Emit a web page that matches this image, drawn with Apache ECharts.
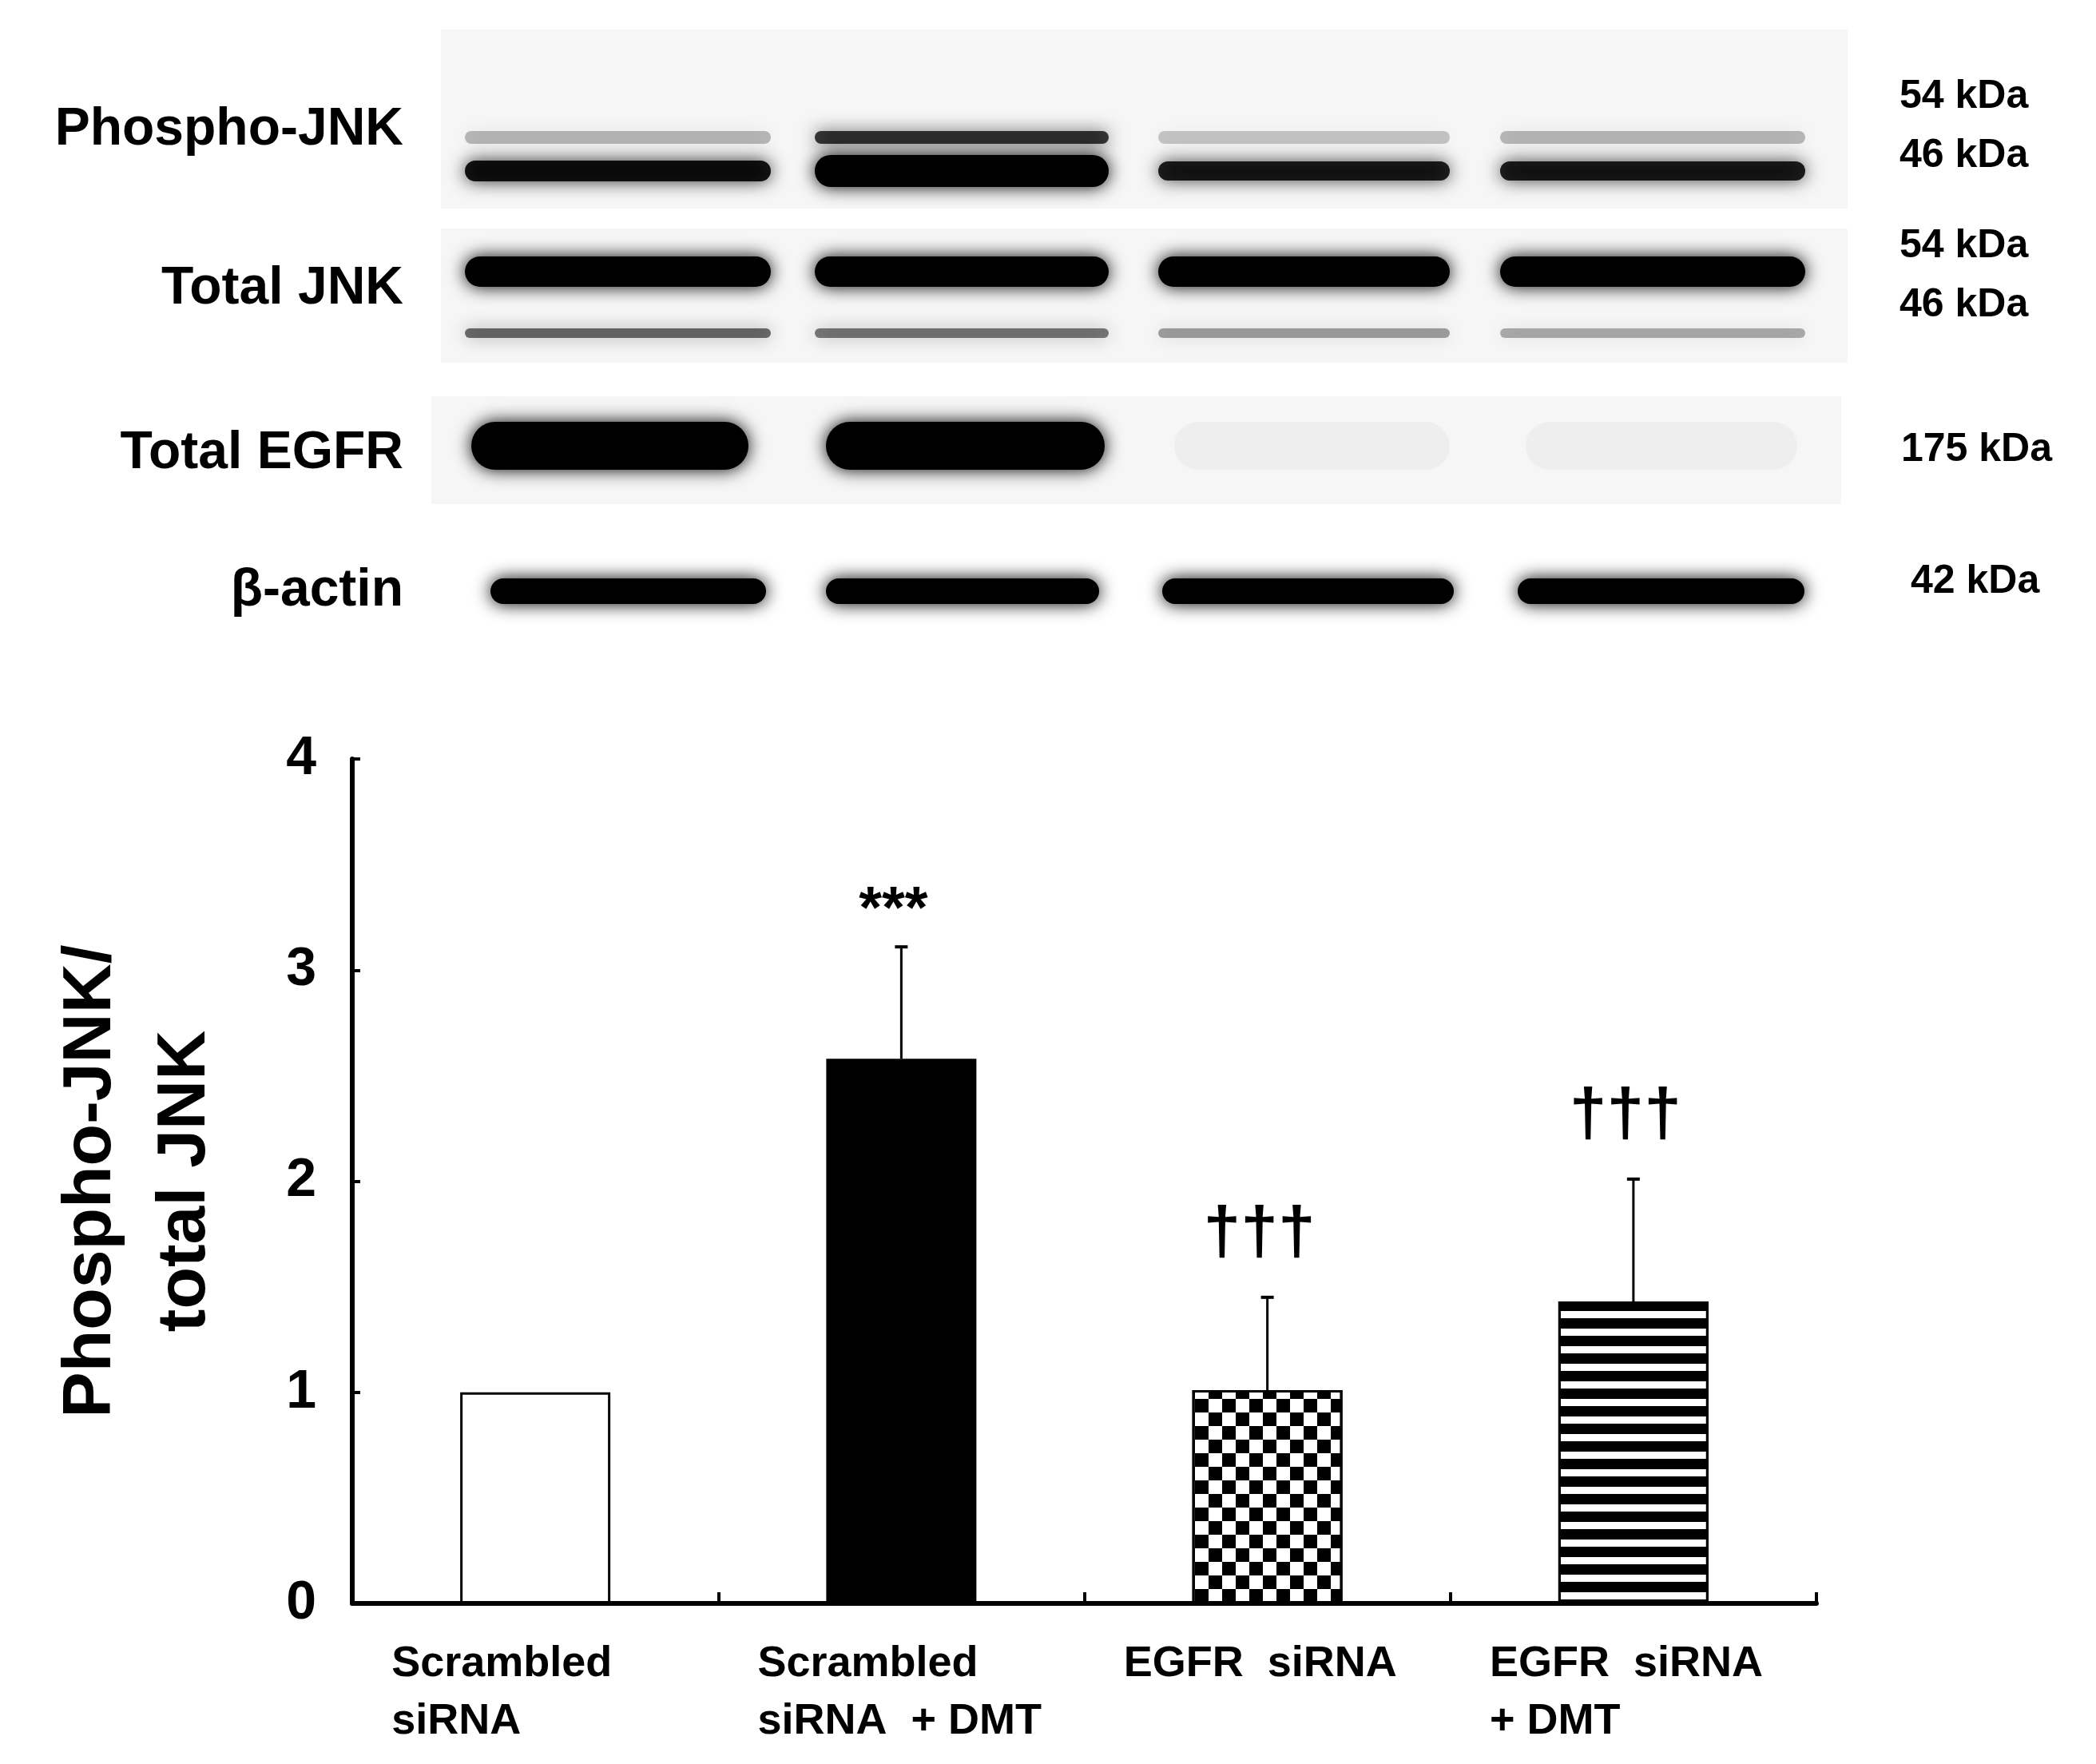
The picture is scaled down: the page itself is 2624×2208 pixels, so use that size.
<!DOCTYPE html>
<html>
<head>
<meta charset="utf-8">
<script src="https://cdn.jsdelivr.net/npm/echarts@6/dist/echarts.min.js"></script>
<style>html,body{margin:0;padding:0;background:#fff}#main{width:2624px;height:2208px}</style>
</head>
<body>
<div id="main"></div>
<script>
// data
var categories = ['Scrambled\nsiRNA', 'Scrambled\nsiRNA  + DMT', 'EGFR  siRNA', 'EGFR  siRNA\n+ DMT'];
var means = [1.0, 2.58, 1.01, 1.43];
var errUpper = [null, 3.11, 1.45, 2.01];
var marks = ['', '***', '†††', '†††'];
var yTicks = [0, 1, 2, 3, 4];

// blot band intensities (0..1) per lane
var pjnkUpper = [0.25, 0.75, 0.2, 0.25];
var pjnkLower = [0.9, 1.0, 0.85, 0.85];
var tjnkUpper = [1, 1, 1, 1];
var tjnkLower = [0.55, 0.5, 0.35, 0.3];
var egfr = [1, 1, 0.03, 0.03];
var actin = [1, 1, 1, 1];

var font = '"Liberation Sans", Arial, sans-serif';
var lanes = [[582, 965], [1020, 1388], [1450, 1815], [1878, 2260]];

var myChart = echarts.init(document.getElementById('main'));
var g = [];

function panel(x, y, w, h) {
    g.push({ type: 'rect', shape: { x: x, y: y, width: w, height: h }, style: { fill: '#f6f6f6' }, z: 1 });
}
function bands(arr, cy, h, laneList, hList) {
    arr.forEach(function (a, i) {
        var l = (laneList || lanes)[i];
        var hh = hList ? hList[i] : h;
        var c = 'rgba(0,0,0,' + a + ')';
        g.push({
            type: 'rect',
            shape: { x: l[0], y: cy - hh / 2, width: l[1] - l[0], height: hh, r: hh / 2 },
            style: { fill: c, shadowBlur: 22, shadowColor: c },
            z: 2
        });
    });
}
function label(text, x, y, size, align) {
    g.push({ type: 'text', x: x, y: y, style: { text: text, font: 'bold ' + size + 'px ' + font, fill: '#000', align: align, verticalAlign: 'middle' }, z: 3 });
}

panel(552, 37, 1761, 224);
bands(pjnkUpper, 172, 16);
bands(pjnkLower, 214, 26, null, [26, 40, 24, 24]);
panel(552, 286, 1761, 168);
bands(tjnkUpper, 340, 38);
bands(tjnkLower, 417, 12);
panel(540, 496, 1765, 135);
bands(egfr, 558, 60, [[590, 937], [1034, 1383], [1470, 1815], [1910, 2250]]);
bands(actin, 740, 32, [[614, 959], [1034, 1376], [1455, 1820], [1900, 2259]]);

label('Phospho-JNK', 505, 163, 66, 'right');
label('Total JNK', 505, 362, 66, 'right');
label('Total EGFR', 505, 568, 66, 'right');
label('β-actin', 505, 740, 66, 'right');
label('54 kDa', 2378, 121, 50, 'left');
label('46 kDa', 2378, 195, 50, 'left');
label('54 kDa', 2378, 308, 50, 'left');
label('46 kDa', 2378, 382, 50, 'left');
label('175 kDa', 2380, 563, 50, 'left');
label('42 kDa', 2392, 728, 50, 'left');

var option = {
    backgroundColor: '#fff',
    animation: false,
    graphic: g,
    grid: { left: 441, right: 350, top: 950, bottom: 201 },
    xAxis: {
        type: 'category',
        data: categories,
        axisLine: { lineStyle: { color: '#000', width: 6 } },
        axisTick: { show: true, inside: true, length: 14, lineStyle: { color: '#000', width: 4 } },
        axisLabel: {
            margin: 40,
            interval: 0,
            formatter: function (v) { return '{a|' + v + '}'; },
            rich: { a: { width: 360, align: 'left', fontFamily: font, fontWeight: 'bold', fontSize: 54, lineHeight: 72, color: '#000' } }
        }
    },
    yAxis: {
        type: 'value',
        min: 0, max: 4, interval: 1,
        name: 'Phospho-JNK/\ntotal JNK',
        nameLocation: 'middle',
        nameGap: 150,
        nameRotate: 90,
        nameTextStyle: { fontFamily: font, fontWeight: 'bold', fontSize: 86, lineHeight: 118, color: '#000' },
        axisLine: { show: true, lineStyle: { color: '#000', width: 6 } },
        axisTick: { show: true, inside: true, length: 10, lineStyle: { color: '#000', width: 4 } },
        splitLine: { show: false },
        axisLabel: {
            margin: 45,
            fontFamily: font, fontWeight: 'bold', fontSize: 68, color: '#000',
            formatter: function (v) { return yTicks.indexOf(v) >= 0 ? String(v) : ''; }
        }
    },
    series: [{
        type: 'bar',
        barWidth: 188,
        data: means.map(function (v, i) {
            var st = { color: '#fff', borderColor: '#000', borderWidth: 3 };
            if (i === 1) st.color = '#000';
            if (i === 2) st.decal = { symbol: 'rect', symbolSize: 1, color: '#000', dashArrayX: [[17, 17], [0, 17, 17, 0]], dashArrayY: [17, 0] };
            if (i === 3) st.decal = { symbol: 'rect', symbolSize: 1, color: '#000', dashArrayX: [1, 0], dashArrayY: [13, 9] };
            return { value: v, itemStyle: st };
        }),
        z: 2
    }, {
        type: 'custom',
        data: errUpper.map(function (u, i) { return [i, means[i], u]; }),
        renderItem: function (params, api) {
            if (api.value(2) == null || isNaN(api.value(2))) return null;
            var b = api.coord([api.value(0), api.value(1)]);
            var t = api.coord([api.value(0), api.value(2)]);
            var idx = params.dataIndex;
            var isStar = marks[idx] === '***';
            return {
                type: 'group',
                children: [
                    { type: 'line', shape: { x1: b[0], y1: b[1], x2: t[0], y2: t[1] }, style: { stroke: '#000', lineWidth: 3 } },
                    { type: 'line', shape: { x1: t[0] - 8, y1: t[1], x2: t[0] + 8, y2: t[1] }, style: { stroke: '#000', lineWidth: 4 } },
                    { type: 'text', x: t[0] - 10, y: t[1] - (isStar ? 8 : 36), style: { text: marks[idx], font: 'bold ' + (isStar ? 74 : 84) + 'px ' + font, fill: '#000', align: 'center', verticalAlign: 'bottom' } }
                ]
            };
        },
        z: 3
    }]
};
myChart.setOption(option);
</script>
</body>
</html>
